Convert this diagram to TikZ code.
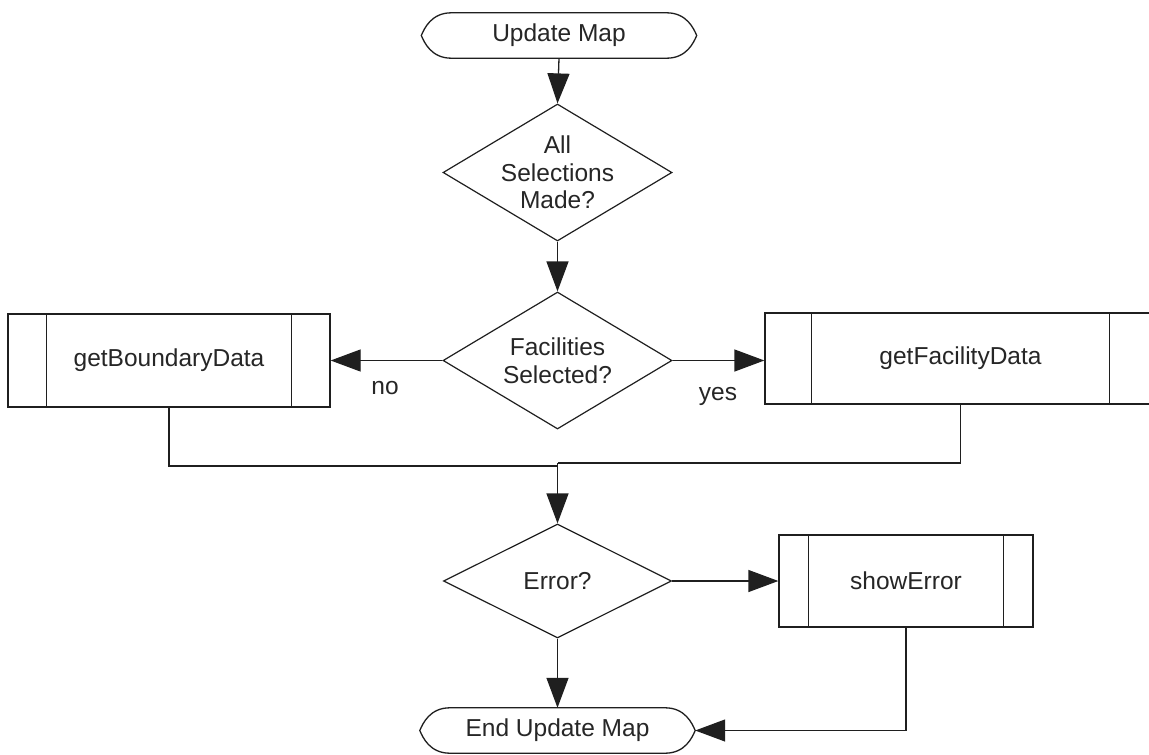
\documentclass[tikz,border=0pt]{standalone}
\usepackage{fontspec}
\setmainfont{Liberation Sans}
\usetikzlibrary{arrows.meta,calc,shapes.geometric}

\tikzset{
  txt/.style={font=\fontsize{24.5}{27.5}\selectfont, text=black!85},
  flow/.style={line width=1.3pt, draw=black!88},
  arr/.style={flow, -{Triangle[length=30pt,width=22pt]}},
  terminal/.style={txt, minimum width=275pt, minimum height=45pt, inner sep=0pt},
  decision/.style={diamond, draw=black!88, line width=1.2pt, inner sep=0pt},
  process/.style={txt, rectangle, draw=black!88, line width=1.3pt, inner sep=0pt},
  tag/.style={txt, inner sep=0pt},
}

% outline of a terminal: flat top and bottom, curved ends meeting in a soft point
\newcommand\termoutline[1]{%
  \draw[flow]
    ($(#1.north west)+(30,0)$) -- ($(#1.north east)+(-30,0)$)
    .. controls ($(#1.north east)+(-10,0)$) and ($(#1.east)+(-3,-7)$) .. (#1.east)
    .. controls ($(#1.east)+(-3,7)$) and ($(#1.south east)+(-10,0)$) .. ($(#1.south east)+(-30,0)$)
    -- ($(#1.south west)+(30,0)$)
    .. controls ($(#1.south west)+(10,0)$) and ($(#1.west)+(3,7)$) .. (#1.west)
    .. controls ($(#1.west)+(3,-7)$) and ($(#1.north west)+(10,0)$) .. ($(#1.north west)+(30,0)$) -- cycle;}

% the two inner bars of a predefined-process box
\newcommand\procbars[2]{%
  \draw[flow] ($(#1.north west)+(#2,0)$) -- ($(#1.south west)+(#2,0)$);
  \draw[flow] ($(#1.north east)+(-#2,0)$) -- ($(#1.south east)+(-#2,0)$);}

\begin{document}
\begin{tikzpicture}[x=1pt, y=-1pt]
  \clip (0,0) rectangle (1149,755);
  \fill[white] (0,0) rectangle (1149,755);

  % start and end
  \node[terminal] (start) at (559,35.5) {Update Map};
  \termoutline{start}
  \node[terminal] (finish) at (557.5,730.5) {End Update Map};
  \termoutline{finish}

  % decisions
  \node[decision, minimum width=229pt, minimum height=137pt] (sel) at (557.5,172.5) {};
  \node[txt, align=center, inner sep=0pt] (seltext) at (sel) {All\\Selections\\Made?};
  \node[decision, minimum width=229pt, minimum height=137pt] (fac) at (557.5,360.5) {};
  \node[txt, align=center, inner sep=0pt] (factext) at (fac) {Facilities\\Selected?};
  \node[decision, minimum width=228pt, minimum height=114pt] (err) at (557.5,581) {};
  \node[txt, inner sep=0pt] (errtext) at (err) {Error?};

  % sub-processes
  \node[process, minimum width=322pt, minimum height=93pt] (bound) at (169,360.5) {getBoundaryData};
  \procbars{bound}{39}
  \node[process, minimum width=391pt, minimum height=91pt] (facdata) at (960.5,358.5) {getFacilityData};
  \procbars{facdata}{47}
  \node[process, minimum width=254pt, minimum height=92pt] (showerr) at (906,581) {showError};
  \procbars{showerr}{30}

  % branch labels
  \node[tag] (no) at (385,388) {no};
  \node[tag] (yes) at (718,396) {yes};

  % join points below the two data boxes
  \coordinate (joinL) at (557.5,466);
  \coordinate (joinR) at (557.5,463);

  % connectors
  \draw[arr] (start.south) -- (sel.north);
  \draw[arr] (sel.south) -- (fac.north);
  \draw[arr] (fac.west) -- (fac.west -| bound.east);
  \draw[arr] (fac.east) -- (fac.east -| facdata.west);
  \draw[flow] (bound.south) |- (joinL);
  \draw[flow] (facdata.south) |- (joinR);
  \draw[arr] (joinR) -- (err.north);
  \draw[arr] (err.east) -- (showerr.west);
  \draw[arr] (err.south) -- (finish.north);
  \draw[arr] (showerr.south) |- (finish.east);
\end{tikzpicture}
\end{document}
